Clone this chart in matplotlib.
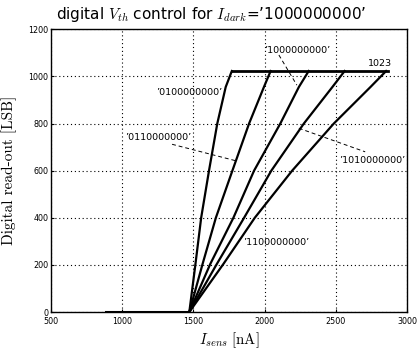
import matplotlib
matplotlib.use("Agg")
import matplotlib.pyplot as plt

plt.rcParams["mathtext.fontset"] = "cm"
plt.rcParams["font.family"] = ["DejaVu Sans"]

# read-out curves, one per V_th code (x in nA, y in LSB)
CODES = ["0100000000", "0110000000", "1000000000", "1010000000", "1100000000"]
CURVE_Y = [0, 204, 400, 600, 800, 955, 1023]
CURVE_X = [
    [1472, 1515, 1555, 1610, 1668, 1727, 1770],
    [1472, 1565, 1658, 1774, 1891, 1995, 2042],
    [1472, 1619, 1781, 1926, 2110, 2240, 2309],
    [1472, 1665, 1856, 2047, 2275, 2475, 2561],
    [1472, 1711, 1931, 2193, 2485, 2742, 2852],
]
ZERO_X = [891, 1472]
SAT_X = [1770, 2865]
SAT_LEVEL = 1023

XTICKS = [500, 1000, 1500, 2000, 2500, 3000]
YTICKS = [0, 200, 400, 600, 800, 1000, 1200]

fig = plt.figure(figsize=(4.17, 3.49), dpi=100)
ax = fig.add_axes([0.1216, 0.106, 0.855, 0.810])

ax.plot(ZERO_X, [0, 0], color="black", lw=2.2)
ax.plot(SAT_X, [SAT_LEVEL, SAT_LEVEL], color="black", lw=2.0)
for xs in CURVE_X:
    ax.plot(xs, CURVE_Y, color="black", lw=1.6)

ax.set_xlim(500, 3000)
ax.set_ylim(0, 1200)
ax.set_xticks(XTICKS)
ax.set_yticks(YTICKS)
ax.tick_params(labelsize=5.8, length=2, direction="in", pad=1.5)
ax.tick_params(axis="x", pad=3.5)
ax.grid(True, color="black", linestyle=(0, (1, 2.5)), linewidth=0.8)
for s in ax.spines.values():
    s.set_linewidth(1.0)

q = "\u2019"
fs = 6.8
dash = dict(color="black", lw=0.7, ls=(0, (4, 3)))
ax.text(2226, 1112, q + CODES[2] + q, fontsize=fs, ha="center", va="center")
ax.plot([2100, 2226], [1091, 963], **dash)
ax.text(1472, 930, q + CODES[0] + q, fontsize=fs, ha="center", va="center")
ax.text(1256, 742, q + CODES[1] + q, fontsize=fs, ha="center", va="center")
ax.plot([1351, 1798], [712, 642], **dash)
ax.text(2756, 642, q + CODES[3] + q, fontsize=fs, ha="center", va="center")
ax.plot([2240, 2705], [780, 680], **dash)
ax.text(2079, 294, q + CODES[4] + q, fontsize=fs, ha="center", va="center")
ax.text(2812, 1057, "1023", fontsize=fs, ha="center", va="center")

fig.text(0.506, 0.958, r"digital $V_{th}$ control for $I_{dark}$=" + q + "1000000000" + q,
         fontsize=11, ha="center", va="center")
ax.set_xlabel(r"$I_{sens}\ \mathrm{[nA]}$", fontsize=10.7, labelpad=3)
ax.set_ylabel("Digital read-out [LSB]", fontsize=11, family="cmr10", labelpad=8)

fig.savefig("out.png", dpi=100)
